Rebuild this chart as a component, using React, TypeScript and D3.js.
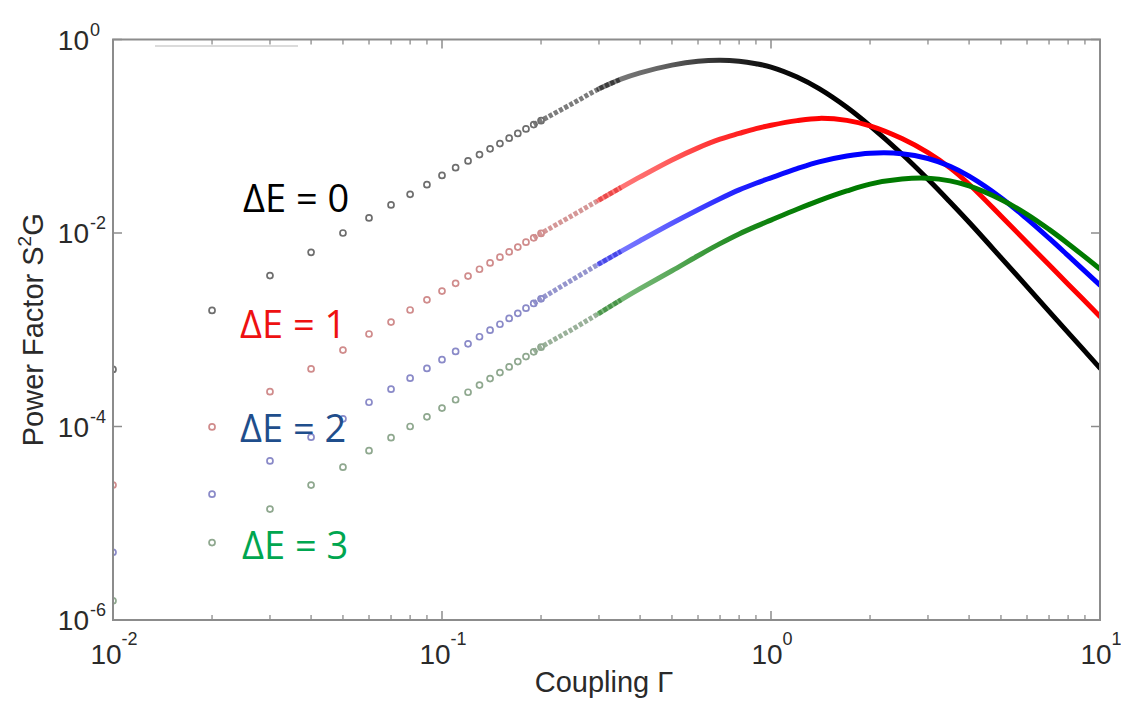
import React from "react";
import * as d3 from "d3";

// Coupling Γ values (x)
const GAMMA = [
  0.01, 0.02, 0.03, 0.04, 0.05, 0.06, 0.07, 0.08, 0.09, 0.1,
  0.11, 0.12, 0.13, 0.14, 0.15, 0.16, 0.17, 0.18, 0.19, 0.2,
  0.25, 0.3, 0.35, 0.4, 0.5, 0.6, 0.7, 0.8, 0.9, 1.0,
  1.2, 1.4, 1.7, 2.0, 2.5, 3.0, 3.5, 4.0, 5.0, 6.0, 7.0, 8.0, 10.0,
];

// Power factor S^2 G for each level offset
const PF_DE0 = [
  3.89e-4, 1.585e-3, 3.63e-3, 6.31e-3, 1.0e-2, 1.43e-2, 1.95e-2, 2.51e-2, 3.16e-2, 3.94e-2,
  4.73e-2, 5.56e-2, 6.46e-2, 7.41e-2, 8.41e-2, 9.55e-2, 0.107, 0.119, 0.132, 0.145,
  0.219, 0.309, 0.389, 0.452, 0.543, 0.596, 0.61, 0.596, 0.562, 0.519,
  0.409, 0.31, 0.199, 0.128, 0.0655, 0.0359, 0.0209, 0.0129, 5.57e-3, 2.79e-3, 1.55e-3, 9.35e-4, 4.01e-4,
];
const PF_DE1 = [
  2.48e-5, 9.89e-5, 2.29e-4, 3.94e-4, 6.17e-4, 9.04e-4, 1.2e-3, 1.6e-3, 2.04e-3, 2.51e-3,
  3.02e-3, 3.59e-3, 4.22e-3, 4.9e-3, 5.62e-3, 6.38e-3, 7.16e-3, 8.04e-3, 8.91e-3, 9.89e-3,
  1.53e-2, 2.19e-2, 2.95e-2, 3.8e-2, 5.69e-2, 7.59e-2, 9.33e-2, 0.107, 0.12, 0.13,
  0.145, 0.153, 0.146, 0.128, 0.0946, 0.0676, 0.0471, 0.0319, 0.015, 7.98e-3, 4.69e-3, 2.96e-3, 1.37e-3,
];
const PF_DE2 = [
  5.01e-6, 2.0e-5, 4.41e-5, 7.76e-5, 1.2e-4, 1.78e-4, 2.43e-4, 3.16e-4, 3.98e-4, 4.9e-4,
  5.97e-4, 7.16e-4, 8.47e-4, 9.89e-4, 1.14e-3, 1.31e-3, 1.48e-3, 1.67e-3, 1.87e-3, 2.09e-3,
  3.31e-3, 4.79e-3, 6.46e-3, 8.32e-3, 1.26e-2, 1.74e-2, 2.26e-2, 2.79e-2, 3.27e-2, 3.72e-2,
  4.62e-2, 5.43e-2, 6.24e-2, 6.68e-2, 6.61e-2, 5.89e-2, 4.9e-2, 3.87e-2, 2.32e-2, 1.4e-2, 8.83e-3, 5.83e-3, 2.89e-3,
];
const PF_DE3 = [
  1.58e-6, 6.31e-6, 1.4e-5, 2.48e-5, 3.8e-5, 5.62e-5, 7.67e-5, 1.0e-4, 1.26e-4, 1.55e-4,
  1.89e-4, 2.26e-4, 2.68e-4, 3.13e-4, 3.61e-4, 4.13e-4, 4.69e-4, 5.28e-4, 5.92e-4, 6.61e-4,
  1.02e-3, 1.48e-3, 2.04e-3, 2.66e-3, 4.07e-3, 5.82e-3, 7.76e-3, 9.77e-3, 1.17e-2, 1.36e-2,
  1.76e-2, 2.16e-2, 2.72e-2, 3.2e-2, 3.61e-2, 3.68e-2, 3.46e-2, 3.07e-2, 2.22e-2, 1.56e-2, 1.09e-2, 7.76e-3, 4.25e-3,
];

const SERIES_LABELS = ["ΔE = 0", "ΔE = 1", "ΔE = 2", "ΔE = 3"];
const X_TICK_EXPONENTS = [-2, -1, 0, 1];
const Y_TICK_EXPONENTS = [0, -2, -4, -6];
const X_TITLE = "Coupling Γ";

const W = 1121;
const H = 701;
const L = 113, R = 1100, T = 39.5, B = 620;

const SERIES = [
  { values: PF_DE0, line: "#000000", marker: "#6e6e6e", text: "#000000", lx: 243, ly: 212 },
  { values: PF_DE1, line: "#ff0000", marker: "#d08c8c", text: "#ee1111", lx: 240, ly: 338 },
  { values: PF_DE2, line: "#0000ff", marker: "#8a8ac8", text: "#1f4e8c", lx: 240, ly: 442 },
  { values: PF_DE3, line: "#007a00", marker: "#8fa88f", text: "#00a650", lx: 242, ly: 559 },
];

export default function App() {
  const x = d3.scaleLog().domain([0.01, 10]).range([L, R]);
  const y = d3.scaleLog().domain([1e-6, 1]).range([B, T]);

  const allTicks = x.ticks();
  const minorX = allTicks.filter((t) => {
    const e = Math.log10(t);
    return Math.abs(e - Math.round(e)) > 1e-6;
  });
  const majorX = X_TICK_EXPONENTS.map((e) => Math.pow(10, e));
  const majorY = Y_TICK_EXPONENTS.map((e) => Math.pow(10, e));

  const lineGen = d3
    .line<[number, number]>()
    .x((d) => x(d[0]))
    .y((d) => y(d[1]))
    .curve(d3.curveCatmullRom.alpha(0.5));

  const gx1 = x(0.3);
  const gx2 = x(1.5);
  const off = (v: number) => (x(v) - gx1) / (gx2 - gx1);
  const stops = [
    { o: 0, a: 0.5 },
    { o: off(0.45), a: 0.6 },
    { o: off(0.7), a: 0.82 },
    { o: off(1.0), a: 0.95 },
    { o: 1, a: 1 },
  ];

  const axisFont = "'Liberation Sans', Arial, Helvetica, sans-serif";
  const labelColor = "#2a2a2a";
  const frame = "#8c8c8c";

  return (
    <div style={{ position: "absolute", left: 0, top: 0 }}>
      <svg width={W} height={H} style={{ display: "block", background: "#fff" }}>
        <defs>
          <clipPath id="plotclip">
            <rect x={L} y={T} width={R - L} height={B - T} />
          </clipPath>
          {SERIES.map((s, i) => (
            <linearGradient
              key={i}
              id={`grad${i}`}
              gradientUnits="userSpaceOnUse"
              x1={gx1}
              x2={gx2}
              y1={0}
              y2={0}
            >
              {stops.map((st, j) => (
                <stop key={j} offset={st.o} stopColor={s.line} stopOpacity={st.a} />
              ))}
            </linearGradient>
          ))}
        </defs>

        {/* faint artifact line top-left */}
        <line x1={155} x2={298} y1={46} y2={46} stroke="#cfcfcf" strokeWidth={1.5} />

        {/* data */}
        <g clipPath="url(#plotclip)">
          {SERIES.map((s, i) => {
            const pts: [number, number][] = GAMMA.map((g, k) => [g, s.values[k]]);
            const dashed = pts.filter((p) => p[0] >= 0.19 && p[0] <= 0.35);
            const solid = pts.filter((p) => p[0] >= 0.3);
            return (
              <g key={i}>
                <path
                  d={lineGen(dashed) || ""}
                  fill="none"
                  stroke={s.marker}
                  strokeOpacity={0.9}
                  strokeWidth={5}
                  strokeDasharray="4 1.8"
                />
                <path
                  d={lineGen(solid) || ""}
                  fill="none"
                  stroke={`url(#grad${i})`}
                  strokeWidth={5}
                  strokeLinecap="round"
                />
                {pts
                  .filter((p) => p[0] <= 0.2)
                  .map((p, k) => (
                    <circle
                      key={k}
                      cx={x(p[0])}
                      cy={y(p[1])}
                      r={3}
                      fill="none"
                      stroke={s.marker}
                      strokeWidth={1.7}
                    />
                  ))}
              </g>
            );
          })}
        </g>

        {/* frame */}
        <rect x={L} y={T} width={R - L} height={B - T} fill="none" stroke={frame} strokeWidth={2} />

        {/* x ticks */}
        {majorX.map((t, i) => (
          <g key={`xM${i}`} stroke={frame} strokeWidth={1.5}>
            <line x1={x(t)} x2={x(t)} y1={B} y2={B - 9} />
            <line x1={x(t)} x2={x(t)} y1={T} y2={T + 9} />
          </g>
        ))}
        {minorX.map((t, i) => (
          <g key={`xm${i}`} stroke={frame} strokeWidth={1.3}>
            <line x1={x(t)} x2={x(t)} y1={B} y2={B - 5} />
            <line x1={x(t)} x2={x(t)} y1={T} y2={T + 5} />
          </g>
        ))}
        {/* y ticks */}
        {majorY.map((t, i) => (
          <g key={`yM${i}`} stroke={frame} strokeWidth={1.5}>
            <line x1={L} x2={L + 9} y1={y(t)} y2={y(t)} />
            <line x1={R} x2={R - 9} y1={y(t)} y2={y(t)} />
          </g>
        ))}

        {/* x tick labels */}
        {X_TICK_EXPONENTS.map((e, i) => (
          <text
            key={`xl${i}`}
            x={x(Math.pow(10, e)) + 1}
            y={664}
            textAnchor="middle"
            fontFamily={axisFont}
            fontSize={28}
            fill={labelColor}
          >
            10
            <tspan dy={-19} fontSize={18}>
              {String(e)}
            </tspan>
          </text>
        ))}

        {/* y tick labels */}
        {Y_TICK_EXPONENTS.map((e, i) => {
          const yy = y(Math.pow(10, e));
          return (
            <g key={`yl${i}`} fontFamily={axisFont} fill={labelColor}>
              <text x={89} y={yy + 10} textAnchor="end" fontSize={28}>
                10
              </text>
              <text x={90} y={yy - 4} fontSize={18}>
                {String(e)}
              </text>
            </g>
          );
        })}

        {/* axis titles */}
        <text
          x={604}
          y={692}
          textAnchor="middle"
          fontFamily={axisFont}
          fontSize={29}
          fill={labelColor}
        >
          {X_TITLE}
        </text>
        <text
          transform={`translate(43, ${(T + B) / 2}) rotate(-90)`}
          textAnchor="middle"
          fontFamily={axisFont}
          fontSize={29}
          fill={labelColor}
        >
          Power Factor S
          <tspan dy={-12} fontSize={19}>
            2
          </tspan>
          <tspan dy={12}>G</tspan>
        </text>

        {/* series annotations */}
        {SERIES.map((s, i) => (
          <text
            key={`lab${i}`}
            x={s.lx}
            y={s.ly}
            fontFamily="'Open Sans', 'Noto Sans', sans-serif"
            fontSize={38}
            fill={s.text}
          >
            {SERIES_LABELS[i]}
          </text>
        ))}
      </svg>
    </div>
  );
}
